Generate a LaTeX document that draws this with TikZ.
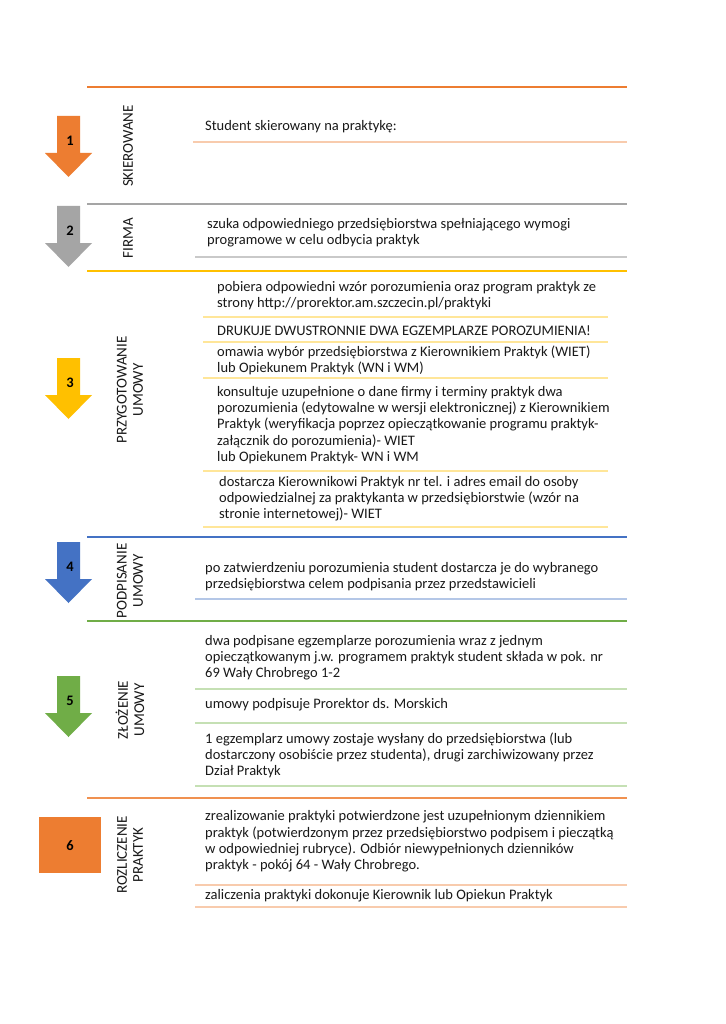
\documentclass[tikz,border=0pt]{standalone}
\usepackage{fontspec}
\setmainfont{Carlito}
\definecolor{cOrange}{HTML}{ED7D31}
\definecolor{cGray}{HTML}{A5A5A5}
\definecolor{cYellow}{HTML}{FFC000}
\definecolor{cBlue}{HTML}{4472C4}
\definecolor{cGreen}{HTML}{70AD47}
\definecolor{lOrange}{HTML}{F8CBAD}
\definecolor{lGray}{HTML}{C9C9C9}
\definecolor{lYellow}{HTML}{FFE699}
\definecolor{lBlue}{HTML}{B4C7E7}
\definecolor{lGreen}{HTML}{C5E0B4}

\begin{document}
\begin{tikzpicture}[
  x=1pt, y=-1pt,
  txt/.style={anchor=west, align=left, inner sep=0pt,
              font=\fontsize{14.5}{16.2}\selectfont, text=black!90},
  lbl/.style={rotate=90, align=center, inner sep=0pt,
              font=\fontsize{15}{16.2}\selectfont, text=black!90},
  num/.style={inner sep=0pt, font=\fontsize{14.5}{16}\selectfont\bfseries},
  sect/.style={line width=1.8pt},
  sub/.style={line width=1.3pt}
]
\useasboundingbox[fill=white] (0,0) rectangle (725,1024);
% Step arrows
\foreach \t/\c/\n in {116/cOrange/1, 206/cGray/2, 358/cYellow/3,
                      542/cBlue/4, 676/cGreen/5}{
  \fill[\c] (57,\t) -- (80,\t) -- (80,{\t+37}) -- (92,{\t+37})
    -- (68.5,{\t+61}) -- (45,{\t+37}) -- (57,{\t+37}) -- cycle;
  \node[num] (n\n) at (70,{\t+25}) {\n};
}
\fill[cOrange] (39,817) rectangle (101,873);
\node[num] (n6) at (70,846) {6};
% Section rules
\draw[sect, cOrange] (87,87) -- (627,87);
\draw[sect, cGray] (87,204) -- (627,204);
\draw[sect, cYellow] (87,271) -- (627,271);
\draw[sect, cBlue] (87,537) -- (627,537);
\draw[sect, cGreen] (87,621) -- (627,621);
\draw[sect, cOrange!85] (87,798) -- (627,798);
% Section labels
\node[lbl] (skier) at (128,146) {SKIEROWANE};
\node[lbl] (firma) at (128,238) {FIRMA};
\node[lbl] (przyg) at (130,390) {PRZYGOTOWANIE\\UMOWY};
\node[lbl] (podp) at (130,581) {PODPISANIE\\UMOWY};
\node[lbl] (zloz) at (130,710) {ZŁOŻENIE\\UMOWY};
\node[lbl] (rozl) at (130,855) {ROZLICZENIE\\PRAKTYK};
% 1
\node[txt] (t1) at (205,127) {Student skierowany na praktykę:};
\draw[sub, lOrange] (193,142) -- (627,142);
% 2
\node[txt] (t2) at (207,233) {szuka odpowiedniego przedsiębiorstwa spełniającego wymogi\\
  programowe w celu odbycia praktyk};
\draw[sub, lGray] (195,257) -- (627,257);
% 3
\node[txt] (t3a) at (217,295.5) {pobiera odpowiedni wzór porozumienia oraz program praktyk ze\\
  strony http://prorektor.am.szczecin.pl/praktyki};
\draw[sub, lYellow] (203,317) -- (608,317);
\node[txt] (t3b) at (217,331) {DRUKUJE DWUSTRONNIE DWA EGZEMPLARZE POROZUMIENIA!};
\draw[sub, lYellow] (203,342) -- (608,342);
\node[txt] (t3c) at (217,360.5) {omawia wybór przedsiębiorstwa z Kierownikiem Praktyk (WIET)\\
  lub Opiekunem Praktyk (WN i WM)};
\draw[sub, lYellow] (203,378) -- (608,378);
\node[txt] (t3d) at (217,425) {konsultuje uzupełnione o dane firmy i terminy praktyk dwa\\
  porozumienia (edytowalne w wersji elektronicznej) z Kierownikiem\\
  Praktyk (weryfikacja poprzez opieczątkowanie programu praktyk-\\
  załącznik do porozumienia)- WIET\\
  lub Opiekunem Praktyk- WN i WM};
\draw[sub, lYellow] (203,471) -- (608,471);
\node[txt] (t3e) at (219,498.5) {dostarcza Kierownikowi Praktyk nr tel. i adres email do osoby\\
  odpowiedzialnej za praktykanta w przedsiębiorstwie (wzór na\\
  stronie internetowej)- WIET};
\draw[sub, lYellow] (203,527) -- (608,527);
% 4
\node[txt] (t4) at (205,577) {po zatwierdzeniu porozumienia student dostarcza je do wybranego\\
  przedsiębiorstwa celem podpisania przez przedstawicieli};
\draw[sub, lBlue] (195,599) -- (627,599);
% 5
\node[txt] (t5a) at (205,658) {dwa podpisane egzemplarze porozumienia wraz z jednym\\
  opieczątkowanym j.w. programem praktyk student składa w pok. nr\\
  69 Wały Chrobrego 1-2};
\draw[sub, lGreen] (195,689) -- (627,689);
\node[txt] (t5b) at (205,705) {umowy podpisuje Prorektor ds. Morskich};
\draw[sub, lGreen] (195,723) -- (627,723);
\node[txt] (t5c) at (205,755.5) {1 egzemplarz umowy zostaje wysłany do przedsiębiorstwa (lub\\
  dostarczony osobiście przez studenta), drugi zarchiwizowany przez\\
  Dział Praktyk};
\draw[sub, lGreen] (195,786) -- (627,786);
% 6
\node[txt] (t6a) at (205,841.5) {zrealizowanie praktyki potwierdzone jest uzupełnionym dziennikiem\\
  praktyk (potwierdzonym przez przedsiębiorstwo podpisem i pieczątką\\
  w odpowiedniej rubryce). Odbiór niewypełnionych dzienników\\
  praktyk - pokój 64 - Wały Chrobrego.};
\draw[sub, lOrange] (195,885) -- (627,885);
\node[txt] (t6b) at (205,896) {zaliczenia praktyki dokonuje Kierownik lub Opiekun Praktyk};
\draw[sub, lOrange] (195,907) -- (627,907);
\end{tikzpicture}
\end{document}
